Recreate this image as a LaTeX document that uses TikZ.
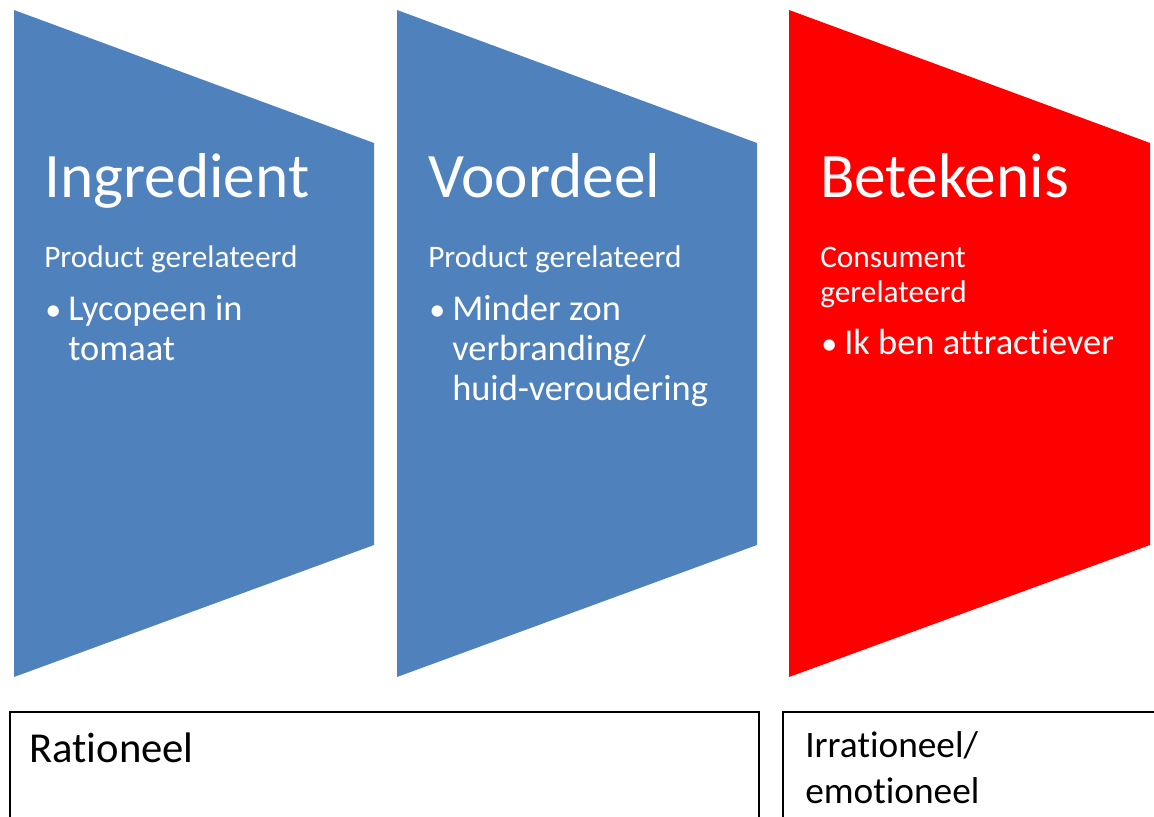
\documentclass[tikz,border=0pt]{standalone}
\usepackage{fontspec}
\setmainfont{Carlito}[Ligatures={NoCommon,NoContextual}]
\usepackage{xcolor}
\definecolor{stepblue}{RGB}{79, 129, 189}
\definecolor{stepred}{RGB}{255, 0, 0}

\begin{document}
\begin{tikzpicture}[x=0.75pt,y=-0.75pt,
    title/.style={anchor=base west,inner sep=0pt,text=white,font=\fontsize{47.5}{57}\selectfont},
    sub/.style={anchor=base west,inner sep=0pt,text=white,font=\fontsize{23.5}{26.25}\selectfont,align=left},
    item/.style={anchor=base west,inner sep=0pt,text=white,font=\fontsize{27.3}{30}\selectfont,align=left},
    dot/.style={anchor=base west,inner sep=0pt,text=white,font=\fontsize{24}{30}\selectfont},
    frame/.style={draw=black,line width=1.6pt},
    boxtext/.style={anchor=base west,inner sep=0pt,align=left}]
            \clip (0,0) rectangle (1154,817);

            % Ingredient
            \fill[stepblue] (14,10) -- (374,143) -- (374,545) -- (14,677) -- cycle;
            \node[title] (ingr) at (44,197) {Ingredient};
            \node[sub] (ingrsub) at (44,267) {Product gerelateerd};
            \node[dot] (ingrdot) at (45,320) {•};
            \node[item] (ingritem) at (68,360) {Lycopeen in\\tomaat};

            % Voordeel
            \fill[stepblue] (397,10) -- (757,143) -- (757,545) -- (397,677) -- cycle;
            \node[title] (voor) at (428,197) {Voordeel};
            \node[sub] (voorsub) at (428,267) {Product gerelateerd};
            \node[dot] (voordot) at (429,320) {•};
            \node[item] (vooritem) at (452,400) {Minder zon\\verbranding/\\huid-veroudering};

            % Betekenis
            \fill[stepred] (789,10) -- (1150,143) -- (1150,545) -- (789,677) -- cycle;
            \node[title] (bet) at (820,197) {Betekenis};
            \node[sub] (betsub) at (820,302) {Consument\\gerelateerd};
            \node[dot] (betdot) at (821,354) {•};
            \node[item] (betitem) at (844,354) {Ik ben attractiever};

            % kaders
            \draw[frame] (10,712) rectangle (759,840);
            \node[boxtext,font=\fontsize{32}{34.5}\selectfont] (rat) at (29,762) {Rationeel};
            \draw[frame] (783,712) rectangle (1170,840);
            \node[boxtext,font=\fontsize{28}{34.5}\selectfont] (irr) at (805,803) {Irrationeel/\\emotioneel};
        \end{tikzpicture}
\end{document}
